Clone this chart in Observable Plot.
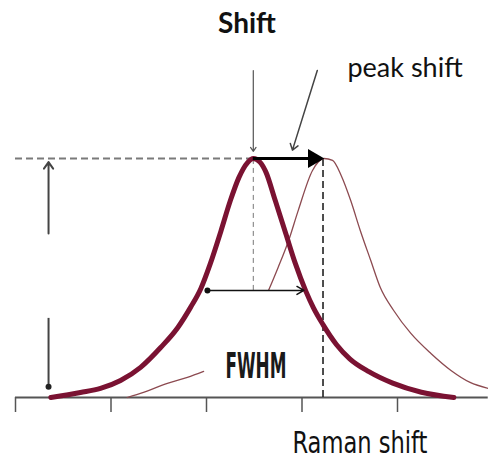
<!DOCTYPE html>
<html><head><meta charset="utf-8">
<script src="https://cdn.jsdelivr.net/npm/d3@7"></script>
<script src="https://cdn.jsdelivr.net/npm/@observablehq/plot@0.6"></script>
<style>
body{margin:0;background:#fff;}
#title{height:45px;box-sizing:border-box;padding-top:6px;padding-left:6px;text-align:center;font:bold 28px/33px Lato,"Open Sans",sans-serif;color:#111;}
</style></head><body>
<div id="title">Shift</div>
<div id="chart"></div>
<script>
// axis ticks (Raman shift, arbitrary units)
const xTicks = [0, 1, 2, 3, 4];

// original band (thick)
const bandX = [0.37, 0.68, 0.89, 1.10, 1.31, 1.52, 1.70, 1.83, 1.94, 2.04, 2.15, 2.25, 2.34, 2.43, 2.49,
               2.56, 2.62, 2.72, 2.83, 2.93, 3.04, 3.12, 3.22, 3.36, 3.50, 3.70, 3.95, 4.25, 4.59];
const bandY = [0.00, 0.021, 0.038, 0.071, 0.126, 0.209, 0.293, 0.375, 0.455, 0.560, 0.695, 0.824, 0.921, 0.983, 1.00,
               0.985, 0.945, 0.824, 0.686, 0.561, 0.445, 0.375, 0.305, 0.222, 0.162, 0.108, 0.060, 0.022, 0.00];

// shifted band (thin) — null marks the hidden part under the label
const shiftX = [1.17, 1.34, 1.59, 1.80, 1.97, 2.30, 2.65, 2.75, 2.86, 2.96, 3.11, 3.23, 3.32, 3.41, 3.51,
                3.61, 3.72, 3.82, 3.96, 4.14, 4.35, 4.56, 4.76, 4.95];
const shiftY = [0.00, 0.021, 0.059, 0.084, 0.109, null, 0.448, 0.544, 0.657, 0.782, 0.950, 1.00, 0.992, 0.929, 0.824,
                0.699, 0.573, 0.460, 0.364, 0.268, 0.184, 0.113, 0.063, 0.038];

// annotation values
const peak1 = 2.49, peak2 = 3.22, halfLevel = 0.448;
const fwhmLeft = 2.01, fwhmRight = 3.02;
const labels = ["Shift", "peak shift", "FWHM", "Raman shift"];

const band = bandX.map((x, i) => ({x, y: bandY[i]}));
const shifted = shiftX.map((x, i) => ({x, y: shiftY[i]}));

const chart = Plot.plot({
  width: 488, height: 418,
  marginLeft: 15, marginRight: 91, marginTop: 113, marginBottom: 66,
  x: {domain: [0, 4]},
  y: {domain: [0, 1], axis: null},
  style: {background: "#fff", overflow: "visible"},
  marks: [
    // axis line and ticks
    Plot.ruleY([0], {x1: 0, x2: 4.95, stroke: "#555", strokeWidth: 2}),
    Plot.axisX({ticks: xTicks, tickFormat: () => "", tickSize: 15, stroke: "#555", strokeWidth: 1.5, label: null}),
    // horizontal dashed max line
    Plot.ruleY([1], {x1: 0, x2: peak1, stroke: "#7a7a7a", strokeWidth: 2, strokeDasharray: "7,4"}),
    // vertical dashed lines
    Plot.ruleX([peak1], {y1: halfLevel, y2: 1, stroke: "#777", strokeWidth: 1, strokeDasharray: "5,4"}),
    Plot.ruleX([peak2], {y1: 0, y2: 1, stroke: "#222", strokeWidth: 1.6, strokeDasharray: "7,4"}),
    // curves
    Plot.line(shifted, {x: "x", y: "y", curve: "monotone-x", stroke: "#8c4a50", strokeWidth: 1.3}),
    Plot.line(band, {x: "x", y: "y", curve: "monotone-x", stroke: "#7a1232", strokeWidth: 5, strokeLinecap: "round", strokeLinejoin: "round"}),
    // peak shift arrow (line + filled head)
    Plot.ruleY([1], {x1: peak1, x2: peak2 - 0.12, stroke: "#000", strokeWidth: 3}),
    Plot.dot([{x: peak2 - 0.1, y: 1}], {x: "x", y: "y", symbol: "triangle", rotate: 90, r: 7, fill: "#000"}),
    // FWHM arrow
    Plot.arrow([{x1: fwhmLeft, y1: halfLevel, x2: fwhmRight, y2: halfLevel}], {x1: "x1", y1: "y1", x2: "x2", y2: "y2", stroke: "#111", strokeWidth: 1.5, headLength: 8, headAngle: 60}),
    Plot.dot([{x: fwhmLeft, y: halfLevel}], {x: "x", y: "y", r: 3, fill: "#111"}),
    // pointer lines from top
    Plot.arrow([{x1: peak1, y1: 1.368, x2: peak1, y2: 1.03}], {x1: "x1", y1: "y1", x2: "x2", y2: "y2", stroke: "#555", strokeWidth: 1.2, headLength: 6, headAngle: 70}),
    Plot.arrow([{x1: 3.16, y1: 1.368, x2: 2.90, y2: 1.035}], {x1: "x1", y1: "y1", x2: "x2", y2: "y2", stroke: "#444", strokeWidth: 1.5, headLength: 7, headAngle: 70}),
    // intensity double arrow (broken)
    Plot.arrow([{x1: 0.346, y1: 0.686, x2: 0.346, y2: 0.985}], {x1: "x1", y1: "y1", x2: "x2", y2: "y2", stroke: "#444", strokeWidth: 2, headLength: 6, headAngle: 70}),
    Plot.ruleX([0.346], {y1: 0.331, y2: 0.035, stroke: "#444", strokeWidth: 2}),
    Plot.dot([{x: 0.346, y: 0.045}], {x: "x", y: "y", r: 3, fill: "#222"}),
    // texts
    Plot.text([labels[1]], {x: 3.476, y: 1.339, text: d => d, textAnchor: "start", lineAnchor: "bottom", fontSize: 27, fontFamily: "Lato, 'Open Sans', sans-serif", fill: "#111"}),
    Plot.text([labels[2]], {x: 2.518, y: 0.0795, text: d => d, textAnchor: "middle", lineAnchor: "bottom", fontSize: 35, fontWeight: "bold", fontFamily: "'Liberation Sans Narrow','DejaVu Sans Condensed','Liberation Sans',sans-serif", fill: "#1a1a1a"}),
    Plot.text([labels[3]], {x: 3.607, y: -0.234, text: d => d, textAnchor: "middle", lineAnchor: "bottom", fontSize: 30, fontFamily: "'Liberation Sans Narrow','DejaVu Sans Condensed','Liberation Sans',sans-serif", fill: "#111"})
  ]
});
document.getElementById("chart").appendChild(chart);
d3.select(chart).selectAll("text").each(function() {
  const t = this.textContent;
  if (t === "FWHM") { this.setAttribute("textLength", 61); this.setAttribute("lengthAdjust", "spacingAndGlyphs"); }
  if (t === "Raman shift") { this.setAttribute("textLength", 135); this.setAttribute("lengthAdjust", "spacingAndGlyphs"); }
});
</script></body></html>
